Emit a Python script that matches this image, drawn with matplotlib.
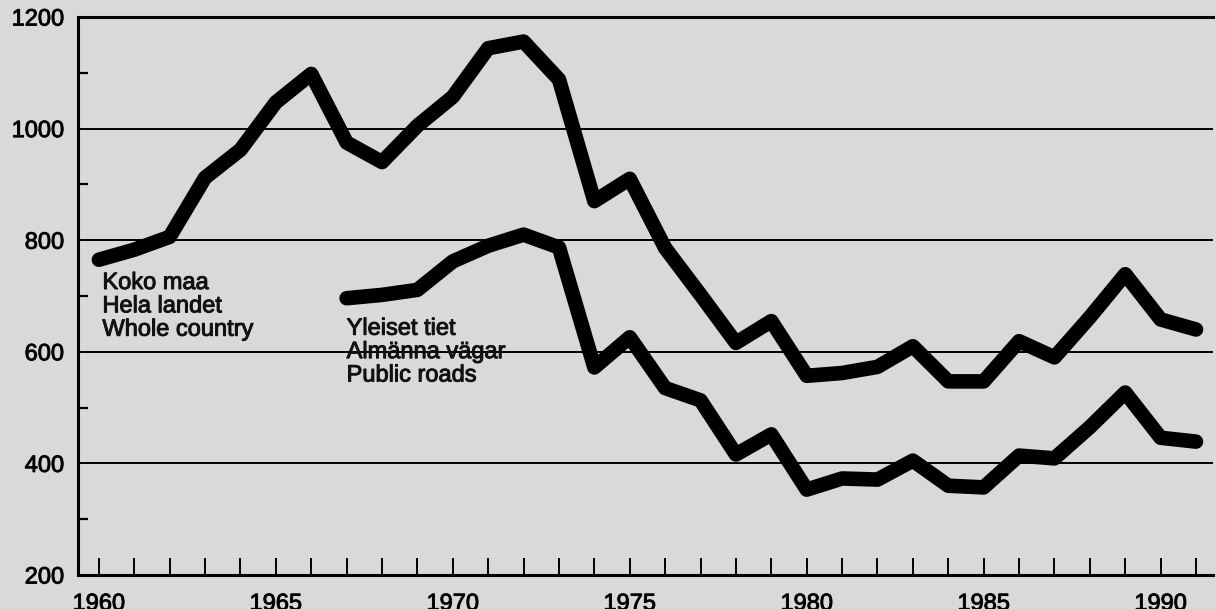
import matplotlib
matplotlib.use("Agg")
import matplotlib.pyplot as plt
import matplotlib.patheffects as pe
from matplotlib.ticker import FixedLocator, FuncFormatter

years_whole = list(range(1960, 1992))
whole_country = [765, 783, 806, 912, 962, 1047, 1098, 975, 940, 1005, 1057, 1144, 1156, 1088,
                 870, 910, 786, 702, 616, 655, 557, 562, 573, 610, 547, 547, 619, 590, 662,
                 739, 658, 640]

years_public = list(range(1967, 1992))
public_roads = [696, 702, 711, 762, 790, 810, 787, 572, 626, 535, 513, 416, 452, 353, 373, 371,
                405, 360, 357, 414, 409, 465, 527, 446, 439]

label_whole = "Koko maa\nHela landet\nWhole country"
label_public = "Yleiset tiet\nAlmänna vägar\nPublic roads"

y_ticks = [200, 400, 600, 800, 1000, 1200]
y_minor = [300, 500, 700, 900, 1100]
grid_vals = [400, 600, 800, 1000]

plt.rcParams['font.family'] = ['Liberation Sans', 'DejaVu Sans']
bg = '#d9d9d9'
stroke = [pe.withStroke(linewidth=0.7, foreground='#111111')]

fig = plt.figure(figsize=(12.16, 6.09), dpi=100, facecolor=bg)
ax = fig.add_axes([78 / 1216, 1 - 575 / 609, (1213 - 78) / 1216, (575 - 17) / 609])
ax.set_facecolor(bg)

ax.set_xlim(1959.41, 1991.48)
ax.set_ylim(200, 1200)

for g in grid_vals:
    ax.axhline(g, color='black', lw=1.4, zorder=1)

ax.plot(years_whole, whole_country, color='black', lw=10.5, solid_capstyle='round',
        solid_joinstyle='round', zorder=3)
ax.plot(years_public, public_roads, color='black', lw=10.5, solid_capstyle='round',
        solid_joinstyle='round', zorder=3)

ax.text(1960.1, 743, label_whole, fontsize=17, va='top', ha='left', linespacing=1.08,
        color='#111111', zorder=4, path_effects=stroke)
ax.text(1967.0, 661, label_public, fontsize=17, va='top', ha='left', linespacing=1.08,
        color='#111111', zorder=4, path_effects=stroke)

ax.spines['right'].set_visible(False)
for side in ['left', 'bottom', 'top']:
    ax.spines[side].set_linewidth(2.2)
    ax.spines[side].set_color('black')

# x ticks: every year, long on even years, labels every 5
all_years = list(range(1960, 1992))
ax.xaxis.set_major_locator(FixedLocator(all_years))
ax.xaxis.set_major_formatter(FuncFormatter(lambda v, p: f"{int(round(v))}" if int(round(v)) % 5 == 0 else ""))
ax.tick_params(axis='x', direction='in', width=1.4, labelsize=17, pad=13, colors='black')
for t in ax.xaxis.get_major_ticks():
    yr = int(round(t.get_loc()))
    t.tick1line.set_markersize(12 if yr % 2 == 0 else 5)
    t.tick2line.set_visible(False)

ax.yaxis.set_major_locator(FixedLocator(y_ticks))
ax.yaxis.set_minor_locator(FixedLocator(y_minor))
ax.tick_params(axis='y', which='major', direction='in', length=0, labelsize=17, pad=10)
ax.tick_params(axis='y', which='minor', direction='in', length=7, width=1.6)
ax.tick_params(axis='x', which='minor', length=0)

for lbl in ax.get_xticklabels() + ax.get_yticklabels():
    lbl.set_path_effects(stroke)

fig.savefig('out.png', dpi=100, facecolor=bg)
